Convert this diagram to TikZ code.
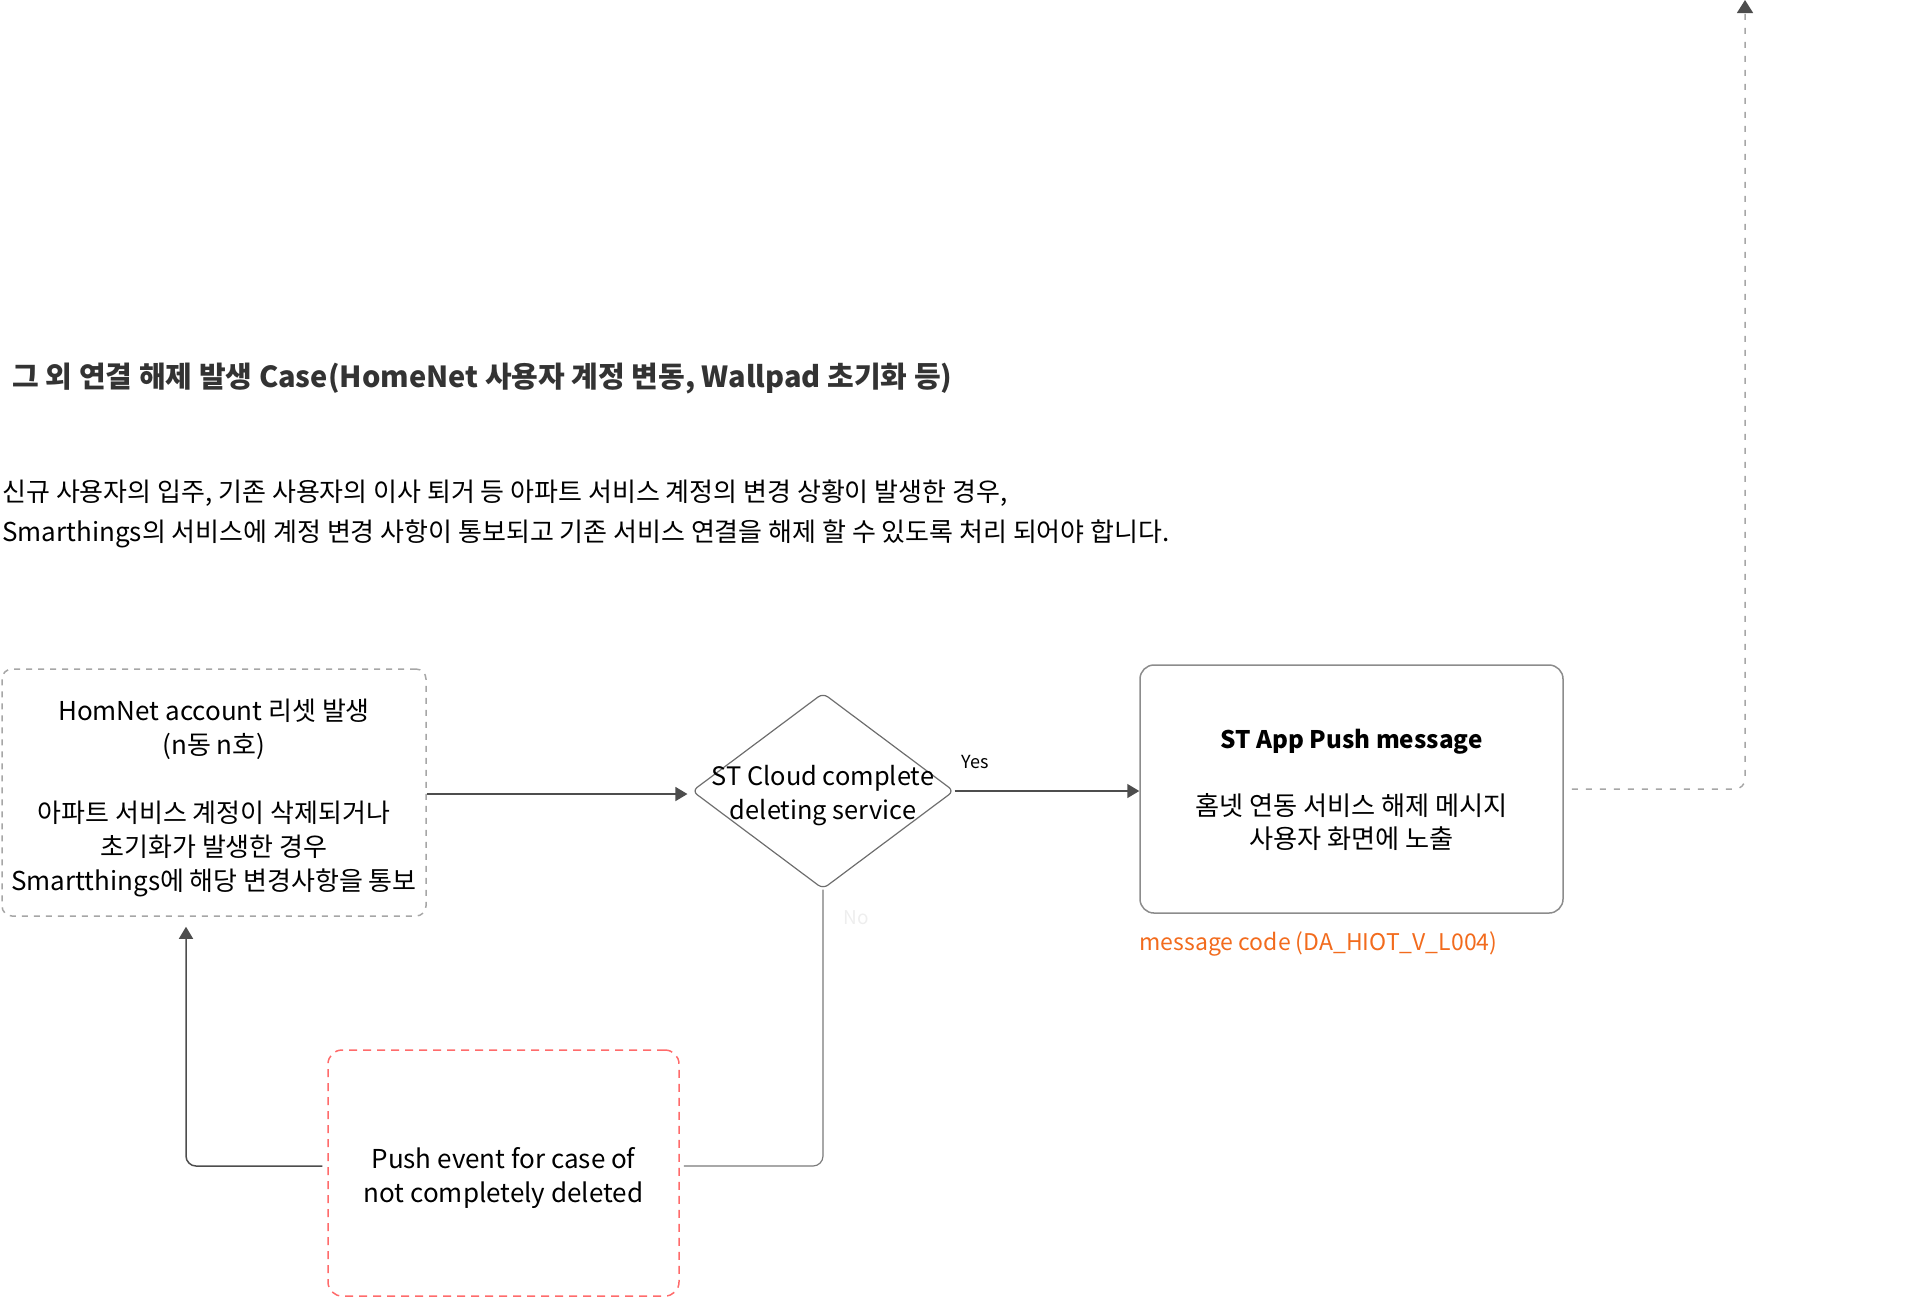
\documentclass[tikz,border=0pt]{standalone}
\usepackage{fontspec}
\setmainfont{Noto Sans CJK KR}
\usetikzlibrary{arrows.meta,positioning,shapes.geometric}
\definecolor{arrgray}{HTML}{4D4D4D}
\definecolor{dashgray}{HTML}{A6A6A6}
\definecolor{boxgray}{HTML}{8C8C8C}
\definecolor{diagray}{HTML}{6E6E6E}
\definecolor{linegray}{HTML}{7A7A7A}
\definecolor{evred}{HTML}{FF6B6B}
\definecolor{msgorange}{HTML}{F26B1D}
\definecolor{nogray}{HTML}{EEEEEE}
\definecolor{titlegray}{HTML}{333333}

\begin{document}
\begin{tikzpicture}[x=0.5pt, y=-0.5pt,
    every node/.style={font=\fontsize{13}{17}\selectfont, align=center, inner sep=0pt},
    txt/.style={font=\fontsize{13}{20}\selectfont, align=left, anchor=west},
    hnbox/.style={draw=dashgray, line width=0.75pt, dash pattern=on 3pt off 3pt, rounded corners=5pt,
        minimum width=212pt, minimum height=123.5pt},
    pushbox/.style={draw=boxgray, line width=0.75pt, rounded corners=7pt,
        minimum width=211.5pt, minimum height=124pt},
    evbox/.style={draw=evred, line width=0.75pt, dash pattern=on 4pt off 3pt, rounded corners=7pt,
        minimum width=175.5pt, minimum height=123pt},
    decision/.style={diamond, draw=diagray, line width=0.6pt, rounded corners=3pt,
        minimum width=131pt, minimum height=98pt},
    arr/.style={draw=arrgray, line width=0.75pt, -{Triangle[width=7pt,length=6pt]}},
    conn/.style={draw=linegray, line width=0.6pt, rounded corners=5pt},
    exitline/.style={draw=dashgray, line width=0.75pt, dash pattern=on 3pt off 4pt, rounded corners=5pt,
        -{Triangle[width=8pt,length=6.5pt,fill=arrgray,color=arrgray]}}
  ]
  \useasboundingbox (0,0) rectangle (1930,1298);

  \node[anchor=west, text=titlegray, font=\fontsize{14.5}{17}\selectfont\bfseries] (title) at (12,379)
    {그 외 연결 해제 발생 Case(HomeNet 사용자 계정 변동, Wallpad 초기화 등)};
  \node[txt] (desc) at (2,514)
    {신규 사용자의 입주, 기존 사용자의 이사 퇴거 등 아파트 서비스 계정의 변경 상황이 발생한 경우,\\
     Smarthings의 서비스에 계정 변경 사항이 통보되고 기존 서비스 연결을 해제 할 수 있도록 처리 되어야 합니다.};

  \node[hnbox] (hn) at (214,792.5) {};
  \node (hntext) at ([shift={(0,5)}]hn.center)
    {HomNet account 리셋 발생\\(n동 n호)\\[17pt]아파트 서비스 계정이 삭제되거나\\초기화가 발생한 경우\\Smartthings에 해당 변경사항을 통보};
  \node[decision] (dia) at (823,791) {};
  \node[font=\fontsize{12.7}{17}\selectfont] (dialbl) at ([shift={(0,5)}]dia.center) {ST Cloud complete\\deleting service};
  \node[pushbox] (push) at (1351.5,789) {};
  \node[font=\fontsize{13.1}{16.5}\selectfont] (pushtext) at ([shift={(0,1)}]push.center)
    {{\fontsize{12.1}{16.5}\selectfont\bfseries ST App Push message}\\[17pt]홈넷 연동 서비스 해제 메시지\\사용자 화면에 노출};
  \node[anchor=west, text=msgorange, font=\fontsize{11.5}{14}\selectfont] (code) at ([shift={(0,30)}]push.south west)
    {message code (DA\_HIOT\_V\_L004)};
  \node[evbox] (ev) at (503.5,1173) {};
  \node[font=\fontsize{13}{17}\selectfont] (evtext) at ([shift={(0,5)}]ev.center) {Push event for case of\\not completely deleted};

  \node[font=\fontsize{9}{11}\selectfont] (yes) at (975,762) {Yes};
  \node[text=nogray, font=\fontsize{9.5}{11}\selectfont] (no) at (856,918) {No};

  \coordinate (top) at (1745,0);

  \draw[arr] (hn.east |- 0,794) -- ([xshift=-2pt]dia.west |- 0,794);
  \draw[arr] (dia.east) -- (dia.east -| push.west);
  \draw[exitline] ([xshift=4pt]push.east) -| (top);
  \draw[conn] (dia.south) |- ([shift={(4,-7)}]ev.east);
  \draw[conn, arr, rounded corners=5pt] ([shift={(-5,-7)}]ev.west) -| ([shift={(-28,10)}]hn.south);
\end{tikzpicture}
\end{document}
